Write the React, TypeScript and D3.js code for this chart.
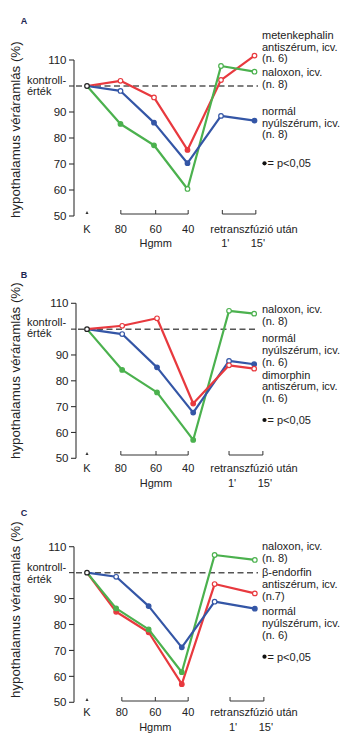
import React from "react";
import * as d3 from "d3";

// ---------- data ----------
const xLabels = ["K", "80", "60", "40", "1'", "15'"];
const yTicks = [50, 60, 70, 80, 90, 100, 110];

// Panel A (metenkephalin antiszérum)
const stepsA = [0, 1, 2, 3, 4, 5];
const tickStepsA = [1.01, 2.05, 3.02, 4.04, 5.04];
const redA = [100, 102.0, 95.6, 75.4, 102.3, 111.7];
const greenA = [100, 85.4, 77.2, 60.4, 107.7, 105.5];
const blueA = [100, 98.1, 85.9, 70.3, 88.5, 86.7];
const sigRedA = [0, 0, 0, 1, 0, 0];
const sigGreenA = [0, 1, 1, 0, 0, 0];
const sigBlueA = [0, 0, 1, 1, 0, 1];
const legendA = [
  ["metenkephalin", "antiszérum, icv.", "(n. 6)"],
  ["naloxon, icv.", "(n. 8)"],
  ["normál", "nyúlszérum, icv.", "(n. 8)"],
];

// Panel B (dimorphin antiszérum)
const stepsB = [0, 1.05, 2.09, 3.17, 4.24, 4.99];
const tickStepsB = [1.01, 2.06, 3.02, 4.24, 5.25];
const redB = [100, 101.3, 104.2, 71.2, 86.0, 84.7];
const greenB = [100, 84.2, 75.5, 57.1, 107.1, 106.0];
const blueB = [100, 98.1, 85.2, 67.7, 87.7, 86.4];
const sigRedB = [0, 0, 0, 1, 0, 0];
const sigGreenB = [0, 1, 1, 1, 0, 0];
const sigBlueB = [0, 0, 1, 1, 0, 1];
const legendB = [
  ["naloxon, icv.", "(n. 8)"],
  ["normál", "nyúlszérum, icv.", "(n. 6)"],
  ["dimorphin", "antiszérum, icv.", "(n. 6)"],
];

// Panel C (β-endorfin antiszérum)
const stepsC = [0, 0.87, 1.84, 2.83, 3.81, 5.01];
const tickStepsC = [1.04, 2.04, 3.02, 4.27, 5.28];
const redC = [100, 84.9, 77.0, 57.0, 95.6, 92.0];
const greenC = [100, 86.2, 78.1, 61.6, 106.8, 104.9];
const blueC = [100, 98.4, 87.1, 71.2, 88.8, 86.1];
const sigRedC = [0, 1, 1, 1, 0, 0];
const sigGreenC = [0, 1, 1, 1, 0, 0];
const sigBlueC = [0, 0, 1, 1, 0, 1];
const legendC = [
  ["naloxon, icv.", "(n. 8)"],
  ["β-endorfin", "antiszérum, icv.", "(n.7)"],
  ["normál", "nyúlszérum, icv.", "(n. 6)"],
];

// ---------- styling ----------
const RED = "#e8393e";
const GREEN = "#4bb14e";
const BLUE = "#3456a6";
const FONT = "'Liberation Sans', Arial, Helvetica, sans-serif";
const TEXT = "#222";

type Series = { color: string; values: number[]; sig: number[] };

type PanelCfg = {
  letter: string;
  letterY: number;
  top: number;
  bottom: number;
  axisX: number;
  steps: number[];
  tickSteps: number[];
  series: Series[];
  legend: string[][];
  legendY: number[][];
  pY: number;
  labelY: number;
  hgmmY: number;
  bracketY: number;
  kontrollY: [number, number];
  titleBottom: number;
};

const panels: PanelCfg[] = [
  {
    letter: "A",
    letterY: 21,
    top: 60,
    bottom: 216,
    axisX: 74,
    steps: stepsA,
    tickSteps: tickStepsA,
    series: [
      { color: RED, values: redA, sig: sigRedA },
      { color: GREEN, values: greenA, sig: sigGreenA },
      { color: BLUE, values: blueA, sig: sigBlueA },
    ],
    legend: legendA,
    legendY: [
      [35, 46.7, 58],
      [72.3, 84.3],
      [111, 122.7, 134],
    ],
    pY: 163.3,
    labelY: 228.7,
    hgmmY: 243.3,
    bracketY: 214,
    kontrollY: [80, 91],
    titleBottom: 218,
  },
  {
    letter: "B",
    letterY: 275,
    top: 303.3,
    bottom: 458.3,
    axisX: 76,
    steps: stepsB,
    tickSteps: tickStepsB,
    series: [
      { color: GREEN, values: greenB, sig: sigGreenB },
      { color: BLUE, values: blueB, sig: sigBlueB },
      { color: RED, values: redB, sig: sigRedB },
    ],
    legend: legendB,
    legendY: [
      [309, 321],
      [338.3, 350, 361.7],
      [375, 386.5, 398],
    ],
    pY: 420,
    labelY: 468.3,
    hgmmY: 483.3,
    bracketY: 455,
    kontrollY: [321.7, 332.7],
    titleBottom: 459,
  },
  {
    letter: "C",
    letterY: 513,
    top: 546.7,
    bottom: 702.3,
    axisX: 74,
    steps: stepsC,
    tickSteps: tickStepsC,
    series: [
      { color: RED, values: redC, sig: sigRedC },
      { color: GREEN, values: greenC, sig: sigGreenC },
      { color: BLUE, values: blueC, sig: sigBlueC },
    ],
    legend: legendC,
    legendY: [
      [545.7, 557.7],
      [572.3, 584, 595.7],
      [611, 623, 634.7],
    ],
    pY: 656.7,
    labelY: 711.7,
    hgmmY: 727.3,
    bracketY: 701,
    kontrollY: [566.7, 579],
    titleBottom: 698,
  },
];

const x = d3.scaleLinear().domain([0, 5]).range([87, 254.5]);

function Panel({ p }: { p: PanelCfg }) {
  const y = d3.scaleLinear().domain([50, 110]).range([p.bottom, p.top]);
  const line = d3
    .line<[number, number]>()
    .x((d) => x(d[0]))
    .y((d) => y(d[1]));
  const legendX = 262;
  const [t80, t60, t40, t1, t15] = p.tickSteps;
  const by = p.bracketY;
  const tk = 4;
  return (
    <g>
      <text
        x={24}
        y={p.letterY}
        dy="0.35em"
        textAnchor="middle"
        fontFamily={FONT}
        fontWeight="bold"
        fontSize={9}
        fill="#1c2550"
      >
        {p.letter}
      </text>
      {/* y axis title */}
      <text
        transform={`translate(20,${p.titleBottom}) rotate(-90)`}
        fontFamily={FONT}
        fontSize={13.3}
        fill={TEXT}
      >
        hypothalamus véráramlás (%)
      </text>
      {/* y axis */}
      <line x1={p.axisX} x2={p.axisX} y1={y(110)} y2={y(50)} stroke="#333" strokeWidth={1.1} />
      {yTicks.map((t) => (
        <g key={t}>
          <line x1={p.axisX - 5} x2={p.axisX} y1={y(t)} y2={y(t)} stroke="#333" strokeWidth={1.1} />
          {t !== 100 && (
            <text
              x={p.axisX - 7.5}
              y={y(t)}
              dy="0.36em"
              textAnchor="end"
              fontFamily={FONT}
              fontSize={11.5}
              fill={TEXT}
            >
              {t}
            </text>
          )}
        </g>
      ))}
      <text x={27} y={p.kontrollY[0]} dy="0.35em" fontFamily={FONT} fontSize={11} fill={TEXT}>
        kontroll-
      </text>
      <text x={27} y={p.kontrollY[1]} dy="0.35em" fontFamily={FONT} fontSize={11} fill={TEXT}>
        érték
      </text>
      {/* dashed control line */}
      <line
        x1={p.axisX + 2}
        x2={258}
        y1={y(100)}
        y2={y(100)}
        stroke="#555"
        strokeWidth={1.5}
        strokeDasharray="6,3.5"
      />
      {/* bottom brackets */}
      <path d={`M${x(0) - 1.5},${by} L${x(0)},${by - 3} L${x(0) + 1.5},${by} Z`} fill="#333" />
      <path
        d={`M${x(t80)},${by - tk} V${by} H${x(t40)} V${by - tk} M${x(t60)},${by} V${by - tk}`}
        fill="none"
        stroke="#333"
        strokeWidth={1}
      />
      <path
        d={`M${x(t1)},${by - tk} V${by} H${x(t15)} V${by - tk}`}
        fill="none"
        stroke="#333"
        strokeWidth={1}
      />
      {/* x labels */}
      <g fontFamily={FONT} fontSize={11} fill={TEXT} textAnchor="middle">
        <text x={x(0)} y={p.labelY} dy="0.35em">{xLabels[0]}</text>
        <text x={x(t80)} y={p.labelY} dy="0.35em">{xLabels[1]}</text>
        <text x={x(t60)} y={p.labelY} dy="0.35em">{xLabels[2]}</text>
        <text x={x(t40)} y={p.labelY} dy="0.35em">{xLabels[3]}</text>
        <text x={x(t60)} y={p.hgmmY} dy="0.35em">Hgmm</text>
        <text x={254} y={p.labelY} dy="0.35em">retranszfúzió után</text>
        <text x={x(t1) + 3} y={p.hgmmY} dy="0.35em">{xLabels[4]}</text>
        <text x={x(t15) + 2} y={p.hgmmY} dy="0.35em">{xLabels[5]}</text>
      </g>
      {/* series */}
      {p.series.map((s, si) => {
        const pts: [number, number][] = s.values.map((v, i) => [p.steps[i], v]);
        return (
          <g key={si}>
            <path d={line(pts) || ""} fill="none" stroke={s.color} strokeWidth={2.2} strokeLinejoin="round" />
            {pts.slice(1).map((d, i) => (
              <circle
                key={i}
                cx={x(d[0])}
                cy={y(d[1])}
                r={2.3}
                fill={s.sig[i + 1] ? s.color : "#fff"}
                stroke={s.color}
                strokeWidth={1.2}
              />
            ))}
          </g>
        );
      })}
      {/* K control point */}
      <circle cx={x(0)} cy={y(100)} r={2.3} fill="#fff" stroke="#222" strokeWidth={1.2} />
      {/* legend */}
      <g fontFamily={FONT} fontSize={11} fill={TEXT}>
        {p.legend.map((grp, gi) =>
          grp.map((ln, li) => (
            <text key={`${gi}-${li}`} x={legendX} y={p.legendY[gi][li]} dy="0.35em">
              {ln}
            </text>
          ))
        )}
        <circle cx={264.5} cy={p.pY} r={2.1} fill="#111" />
        <text x={267.5} y={p.pY} dy="0.35em">= p&lt;0,05</text>
      </g>
    </g>
  );
}

export default function App() {
  return (
    <svg
      width={350}
      height={751}
      viewBox="0 0 350 751"
      style={{ position: "absolute", left: 0, top: 0, background: "#fff" }}
    >
      <rect width={350} height={751} fill="#fff" />
      {panels.map((p) => (
        <Panel key={p.letter} p={p} />
      ))}
    </svg>
  );
}
